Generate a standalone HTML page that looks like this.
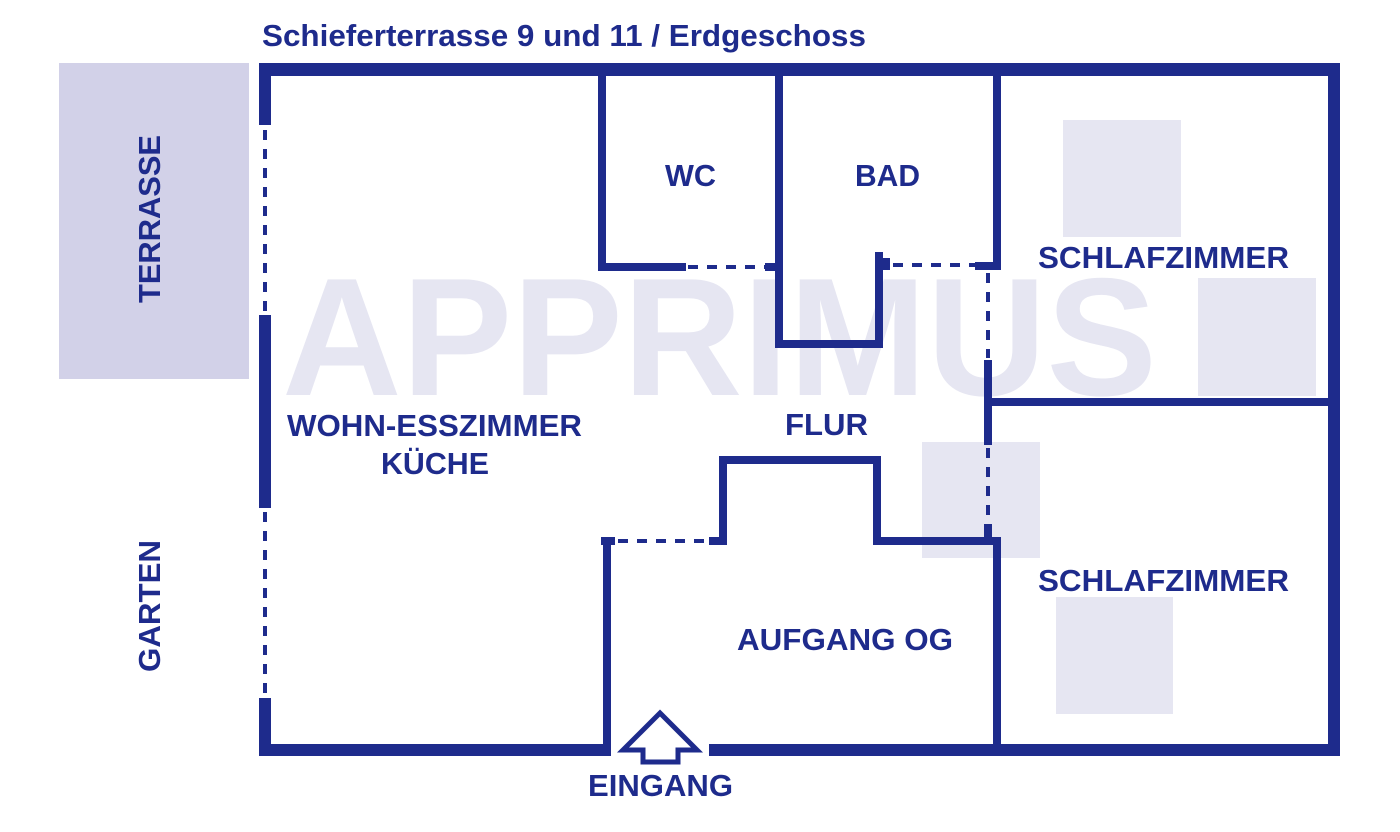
<!DOCTYPE html><html><head><style>
body{margin:0;width:1400px;height:827px;background:#fff;overflow:hidden;font-family:"Liberation Sans",sans-serif}
</style></head><body>
<svg width="1400" height="827" xmlns="http://www.w3.org/2000/svg" font-family="Liberation Sans, sans-serif" font-weight="bold">
<rect x="59" y="63" width="190" height="316" fill="#d2d1e8"/>
<g fill="#e6e6f2">
<rect x="1063" y="120" width="118" height="117"/>
<rect x="1198" y="278" width="118" height="118"/>
<rect x="922" y="442" width="118" height="116"/>
<rect x="1056" y="597" width="117" height="117"/>
<text x="282" y="395" font-size="168" textLength="875" lengthAdjust="spacingAndGlyphs">APPRIMUS</text>
</g>
<text x="262" y="46" font-size="31" fill="#1e2b8c" textLength="604" lengthAdjust="spacingAndGlyphs">Schieferterrasse 9 und 11 / Erdgeschoss</text>
<g fill="#1e2b8c" stroke="none">
<rect x="259" y="63" width="1081" height="13"/>
<rect x="259" y="744" width="352" height="12"/>
<rect x="709" y="744" width="631" height="12"/>
<rect x="1328" y="63" width="12" height="693"/>
<rect x="259" y="63" width="12" height="62"/>
<rect x="259" y="315" width="12" height="193"/>
<rect x="259" y="698" width="12" height="58"/>
<rect x="598" y="63" width="8" height="208"/>
<rect x="598" y="263" width="88" height="8"/>
<rect x="765" y="263" width="10" height="8"/>
<rect x="775" y="63" width="8" height="285"/>
<rect x="775" y="340" width="108" height="8"/>
<rect x="875" y="252" width="8" height="96"/>
<rect x="875" y="258" width="15" height="12"/>
<rect x="993" y="63" width="8" height="207"/>
<rect x="975" y="262" width="26" height="8"/>
<rect x="984" y="360" width="8" height="85"/>
<rect x="984" y="398" width="356" height="8"/>
<rect x="603" y="537" width="8" height="213"/>
<rect x="601" y="537" width="14" height="8"/>
<rect x="709" y="537" width="18" height="8"/>
<rect x="719" y="456" width="8" height="89"/>
<rect x="719" y="456" width="162" height="8"/>
<rect x="873" y="456" width="8" height="89"/>
<rect x="873" y="537" width="128" height="8"/>
<rect x="993" y="537" width="8" height="210"/>
<rect x="984" y="524" width="8" height="14"/>
</g>
<g stroke="#1e2b8c" fill="none" stroke-width="4" stroke-dasharray="10 9">
<line x1="265" y1="130" x2="265" y2="312"/>
<line x1="265" y1="512" x2="265" y2="696"/>
<line x1="688" y1="267" x2="765" y2="267"/>
<line x1="893" y1="265" x2="975" y2="265"/>
<line x1="988" y1="273" x2="988" y2="358"/>
<line x1="988" y1="448" x2="988" y2="522"/>
<line x1="618" y1="541" x2="708" y2="541"/>
</g>
<polygon points="660,713 697,750 678,750 678,762 643,762 643,750 623,750" fill="none" stroke="#1e2b8c" stroke-width="5"/>
<g fill="#1e2b8c" font-size="31">
<text x="665" y="186" textLength="51" lengthAdjust="spacingAndGlyphs">WC</text>
<text x="855" y="186" textLength="65" lengthAdjust="spacingAndGlyphs">BAD</text>
<text x="1038" y="268" textLength="251" lengthAdjust="spacingAndGlyphs">SCHLAFZIMMER</text>
<text x="1038" y="591" textLength="251" lengthAdjust="spacingAndGlyphs">SCHLAFZIMMER</text>
<text x="287" y="436" textLength="295" lengthAdjust="spacingAndGlyphs">WOHN-ESSZIMMER</text>
<text x="381" y="474" textLength="108" lengthAdjust="spacingAndGlyphs">KÜCHE</text>
<text x="785" y="435" textLength="83" lengthAdjust="spacingAndGlyphs">FLUR</text>
<text x="737" y="650" textLength="216" lengthAdjust="spacingAndGlyphs">AUFGANG OG</text>
<text x="588" y="796" textLength="145" lengthAdjust="spacingAndGlyphs">EINGANG</text>
<text transform="translate(160,303) rotate(-90)" textLength="168" lengthAdjust="spacingAndGlyphs">TERRASSE</text>
<text transform="translate(160,672) rotate(-90)" textLength="132" lengthAdjust="spacingAndGlyphs">GARTEN</text>
</g>
</svg>
</body></html>
